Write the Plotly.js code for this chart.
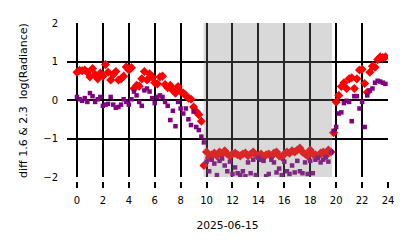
<!DOCTYPE html>
<html>
<head>
<meta charset="utf-8">
<script src="https://cdn.plot.ly/plotly-3.0.1.min.js"></script>
<style>html,body{margin:0;padding:0;background:#fff;}#chart{width:414px;height:248px;}</style>
</head>
<body>
<div id="chart"></div>
<script>
// Hours of day (2025-06-15)
const hours = [
 0.0,0.2,0.4,0.6,0.8,1.0,1.2,1.4,1.6,1.8,
 2.0,2.2,2.4,2.6,2.8,3.0,3.2,3.4,3.6,3.8,
 4.0,4.2,4.4,4.6,4.8,5.0,5.2,5.4,5.6,5.8,
 6.0,6.2,6.4,6.6,6.8,7.0,7.2,7.4,7.6,7.8,
 8.0,8.2,8.4,8.6,8.8,9.0,9.2,9.4,9.6,9.8,
 10.0,10.2,10.4,10.6,10.8,11.0,11.2,11.4,11.6,11.8,
 12.0,12.2,12.4,12.6,12.8,13.0,13.2,13.4,13.6,13.8,
 14.0,14.2,14.4,14.6,14.8,15.0,15.2,15.4,15.6,15.8,
 16.0,16.2,16.4,16.6,16.8,17.0,17.2,17.4,17.6,17.8,
 18.0,18.2,18.4,18.6,18.8,19.0,19.2,19.4,19.6,19.8,
 20.0,20.2,20.4,20.6,20.8,21.0,21.2,21.4,21.6,21.8,
 22.0,22.2,22.4,22.6,22.8,23.0,23.2,23.4,23.6,23.8
];
// red diamonds
const diffRed = [
 0.72,0.77,0.76,0.78,0.72,0.60,0.82,0.66,0.55,0.70,
 0.62,0.92,0.72,0.52,0.66,0.74,0.52,0.55,0.62,0.86,
 0.78,0.84,0.30,0.38,0.36,0.55,0.74,0.52,0.68,0.60,
 0.45,0.42,0.60,0.62,0.40,0.32,0.38,0.25,0.18,0.35,
 0.22,0.18,0.12,0.05,0.02,-0.18,-0.30,-0.38,-0.55,-1.70,
 -1.35,-1.50,-1.42,-1.38,-1.45,-1.35,-1.40,-1.32,-1.40,-1.45,
 -1.40,-1.38,-1.42,-1.45,-1.40,-1.38,-1.45,-1.40,-1.35,-1.42,
 -1.45,-1.40,-1.48,-1.42,-1.40,-1.46,-1.38,-1.35,-1.45,-1.48,
 -1.40,-1.35,-1.38,-1.32,-1.35,-1.30,-1.25,-1.35,-1.40,-1.45,
 -1.30,-1.40,-1.42,-1.45,-1.38,-1.35,-1.45,-1.30,-1.35,-0.85,
 -0.05,0.12,0.35,0.45,0.30,0.55,0.58,0.30,0.55,0.78,
 0.80,0.43,0.20,0.72,0.88,0.85,1.05,1.12,1.10,1.12
];
// purple squares
const diffPurple = [
 0.08,0.02,-0.02,0.05,-0.05,0.18,0.10,-0.05,0.02,0.08,
 -0.15,-0.12,-0.10,0.08,-0.12,-0.20,-0.18,-0.12,0.02,-0.05,
 -0.12,0.02,0.22,0.12,-0.05,-0.15,0.25,0.30,0.22,0.05,
 -0.08,0.08,0.12,0.08,-0.05,-0.15,-0.52,-0.28,-0.68,-0.05,
 -0.22,-0.35,-0.22,-0.50,-0.65,-0.30,-0.70,-0.78,-0.95,-1.10,
 -1.60,-1.85,-1.55,-1.65,-1.95,-1.58,-1.52,-1.70,-1.85,-1.60,
 -1.92,-1.75,-1.90,-1.95,-1.85,-1.98,-1.62,-1.90,-1.55,-1.95,
 -1.50,-1.55,-1.58,-1.98,-1.92,-1.55,-1.62,-1.88,-1.78,-1.95,
 -1.60,-1.85,-1.92,-1.70,-1.88,-1.58,-1.85,-1.90,-1.62,-1.92,
 -1.58,-1.90,-1.55,-1.50,-1.62,-1.55,-1.48,-1.60,-1.35,-0.80,
 -0.70,-0.35,-0.32,-0.08,-0.02,-0.05,-0.55,0.10,0.10,-0.22,
 -0.05,-0.70,0.12,0.25,0.30,0.45,0.50,0.48,0.45,0.42
];
const nightStart = 9.77, nightEnd = 19.68;
const xTicks = [0,2,4,6,8,10,12,14,16,18,20,22,24];
const yTicks = [-2,-1,0,1,2];
const yTickText = ['\u22122','\u22121','0','1','2'];
const yTitle = 'diff 1.6 &amp; 2.3  log(Radiance)';

const traces = [
 {x: hours, y: diffRed, type: 'scatter', mode: 'markers',
  marker: {symbol: 'diamond', size: 7, color: '#ff0000', line: {width: 0}}, showlegend: false},
 {x: hours, y: diffPurple, type: 'scatter', mode: 'markers',
  marker: {symbol: 'square', size: 4.5, color: '#800080', line: {width: 0}}, showlegend: false}
];

const layout = {
 width: 414, height: 248,
 margin: {l: 67, r: 26, t: 23, b: 67},
 paper_bgcolor: '#fff', plot_bgcolor: '#fff',
 font: {family: 'DejaVu Sans', size: 10, color: '#000'},
 xaxis: {
  range: [-0.77, 24], tickvals: xTicks, ticktext: xTicks.map(String),
  showgrid: true, gridcolor: '#000', gridwidth: 2, zeroline: false,
  ticks: 'outside', ticklen: 6, tickwidth: 2, tickcolor: '#000',
  anchor: 'free', position: 0, showline: false, ticklabelstandoff: 4,
  tickfont: {size: 10, color: '#000'},
  title: {text: '2025-06-15', font: {size: 10.7, color: '#000'}, standoff: 16}
 },
 yaxis: {
  range: [-2, 2], domain: [0.025, 1], tickvals: yTicks, ticktext: yTickText,
  showgrid: true, gridcolor: '#000', gridwidth: 2, zeroline: false,
  ticks: '', showline: false, ticklabelstandoff: 8,
  tickfont: {size: 10, color: '#000'}
 },
 annotations: [{text: yTitle, xref: 'paper', yref: 'paper', x: -0.134, y: 0.513,
  xanchor: 'center', yanchor: 'middle', textangle: -90, showarrow: false,
  font: {size: 11, color: '#000'}}],
 shapes: [{type: 'rect', xref: 'x', yref: 'y', x0: nightStart, x1: nightEnd, y0: -2, y1: 2,
  fillcolor: 'rgba(128,128,128,0.3)', line: {width: 0}, layer: 'above'}]
};
Plotly.newPlot('chart', traces, layout, {displayModeBar: false, staticPlot: true});
</script>
</body>
</html>
